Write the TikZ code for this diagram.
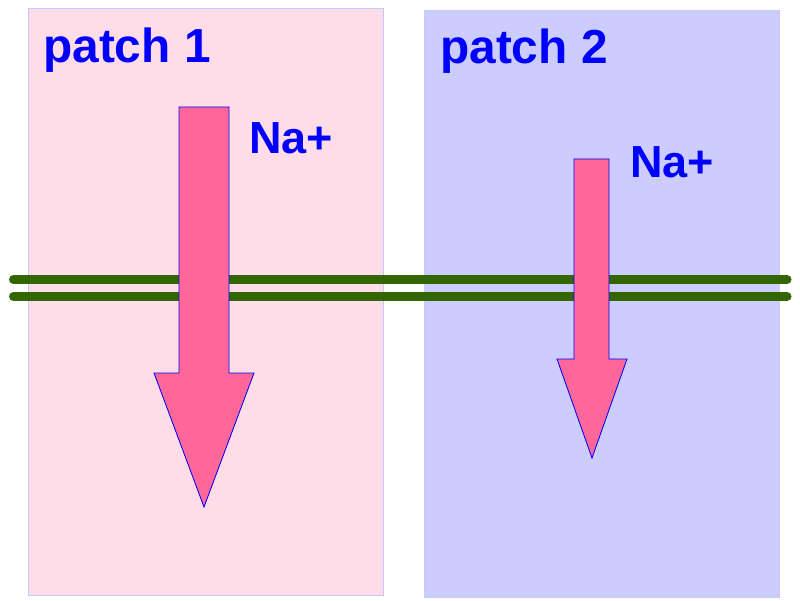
\documentclass[tikz,border=0pt]{standalone}
\usepackage{fontspec}
\setmainfont{Liberation Sans}
\usetikzlibrary{positioning}
\definecolor{PatchPink}{HTML}{FFDDE8}
\definecolor{PatchLilac}{HTML}{CCCCFF}
\definecolor{PatchEdge}{HTML}{C8C8FF}
\definecolor{IonPink}{HTML}{FF6699}
\definecolor{IonEdge}{HTML}{0000FF}
\definecolor{Membrane}{HTML}{336600}
\definecolor{LabelBlue}{HTML}{0000FF}

\begin{document}
\begin{tikzpicture}[
    patch/.style={draw=PatchEdge, line width=0.6pt},
    membrane/.style={draw=Membrane, line width=6.4pt, line cap=round},
    ion/.style={fill=IonPink, draw=IonEdge, line width=0.6pt, line join=miter},
    patchlabel/.style={font=\fontsize{34}{40}\selectfont\bfseries, text=LabelBlue,
        anchor=base west, inner sep=0pt},
    ionlabel/.style={font=\fontsize{32}{38}\selectfont\bfseries, text=LabelBlue,
        anchor=base west, inner sep=0pt}
]
\useasboundingbox (0,0) rectangle (20,15);

% Patches
\filldraw[patch, fill=PatchPink] (0.700,0.125) rectangle (9.575,14.800);
\filldraw[patch, fill=PatchLilac] (10.600,0.075) rectangle (19.475,14.750);
\node[patchlabel] (patchA) at (1.075,13.425) {patch 1};
\node[patchlabel] (patchB) at (11.000,13.400) {patch 2};

% Membrane
\coordinate (memTL) at (0.3375,8.0125);
\coordinate (memTR) at (19.675,8.0125);
\coordinate (memBL) at (0.3375,7.5875);
\coordinate (memBR) at (19.675,7.5875);
\draw[membrane] (memTL) -- (memTR);
\draw[membrane] (memBL) -- (memBR);

% Sodium currents
\filldraw[ion] (4.475,12.325) -- (5.725,12.325) -- (5.725,5.675) -- (6.350,5.675)
    -- (5.100,2.325) -- (3.850,5.675) -- (4.475,5.675) -- cycle;
\filldraw[ion] (14.350,11.025) -- (15.225,11.025) -- (15.225,6.025) -- (15.675,6.025)
    -- (14.800,3.550) -- (13.925,6.025) -- (14.350,6.025) -- cycle;
\node[ionlabel] (naA) at (6.225,11.150) {Na+};
\node[ionlabel] (naB) at (15.750,10.550) {Na+};

\end{tikzpicture}
\end{document}
